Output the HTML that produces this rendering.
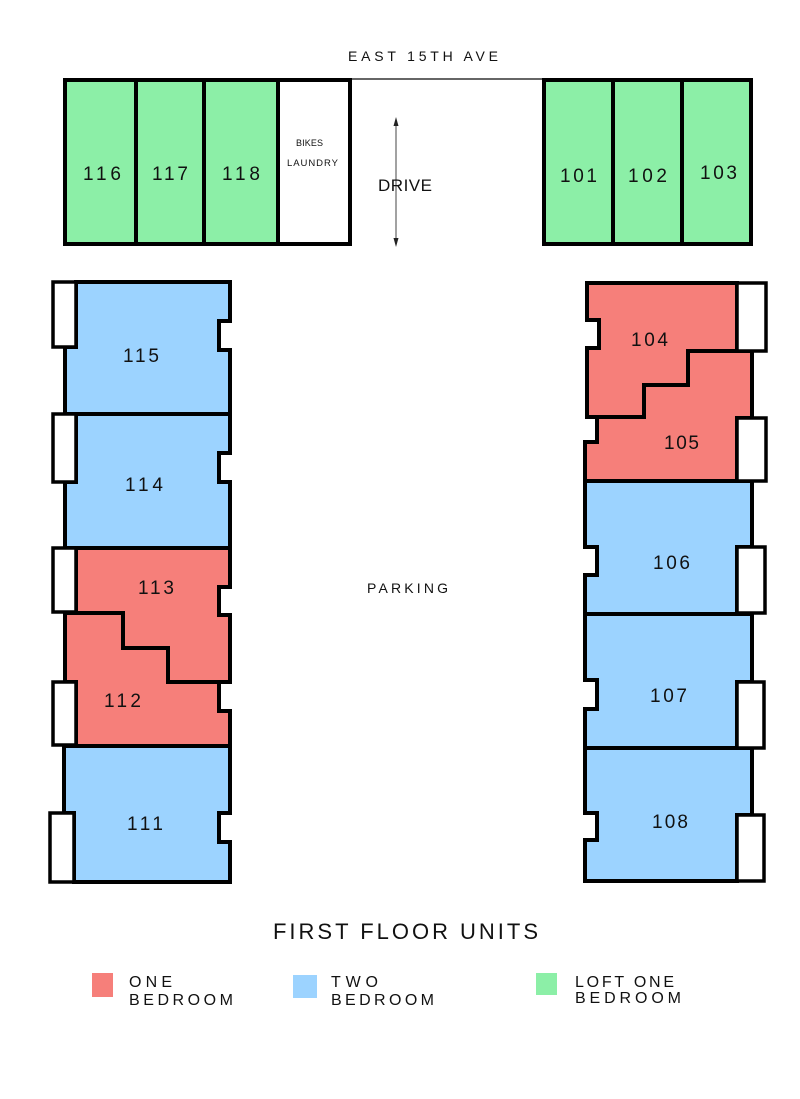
<!DOCTYPE html>
<html><head><meta charset="utf-8"><style>
html,body{margin:0;padding:0;background:#fff;}
svg{display:block;}
text{font-family:"Liberation Sans",sans-serif;fill:#111;}
</style></head><body>
<svg width="800" height="1099" viewBox="0 0 800 1099" xmlns="http://www.w3.org/2000/svg">
<rect width="800" height="1099" fill="#fff"/>
<!-- street -->
<line x1="350" y1="79" x2="544" y2="79" stroke="#333" stroke-width="1.5"/>
<text x="348" y="61" font-size="14" textLength="150" lengthAdjust="spacing">EAST 15TH  AVE</text>

<!-- top left block -->
<g stroke="#000" stroke-width="4" stroke-linejoin="miter">
<rect x="65" y="80" width="71" height="164" fill="#8CEFA7"/>
<rect x="136" y="80" width="68" height="164" fill="#8CEFA7"/>
<rect x="204" y="80" width="74" height="164" fill="#8CEFA7"/>
<rect x="278" y="80" width="72" height="164" fill="#fff"/>
<rect x="544" y="80" width="69" height="164" fill="#8CEFA7"/>
<rect x="613" y="80" width="69" height="164" fill="#8CEFA7"/>
<rect x="682" y="80" width="69" height="164" fill="#8CEFA7"/>
</g>
<text x="83" y="180" font-size="19" textLength="38" lengthAdjust="spacing">116</text>
<text x="152" y="180" font-size="19" textLength="36" lengthAdjust="spacing">117</text>
<text x="222" y="180" font-size="19" textLength="38" lengthAdjust="spacing">118</text>
<text x="560" y="182" font-size="19" textLength="37" lengthAdjust="spacing">101</text>
<text x="628" y="182" font-size="19" textLength="39" lengthAdjust="spacing">102</text>
<text x="700" y="179" font-size="19" textLength="37" lengthAdjust="spacing">103</text>
<text x="296" y="146" font-size="9" textLength="27" lengthAdjust="spacing">BIKES</text>
<text x="287" y="166" font-size="9.5" textLength="51" lengthAdjust="spacing">LAUNDRY</text>

<!-- drive arrow -->
<line x1="396" y1="123" x2="396" y2="241" stroke="#444" stroke-width="1"/>
<polygon points="396,117 393.5,126 398.5,126" fill="#222"/>
<polygon points="396,247 393.5,238 398.5,238" fill="#222"/>
<text x="378" y="191" font-size="17" textLength="54" lengthAdjust="spacing">DRIVE</text>

<!-- left column -->
<g stroke="#000" stroke-width="4" stroke-linejoin="miter">
<polygon fill="#9CD3FF" points="76,282 230,282 230,321 219,321 219,350 230,350 230,414 65,414 65,347 76,347"/>
<polygon fill="#9CD3FF" points="76,414 230,414 230,453 219,453 219,482 230,482 230,548 65,548 65,482 76,482"/>
<polygon fill="#F67F7A" points="76,548 230,548 230,587 219,587 219,615 230,615 230,682 168,682 168,648 123,648 123,613 76,613"/>
<polygon fill="#F67F7A" points="65,613 123,613 123,648 168,648 168,682 219,682 219,711 230,711 230,746 76,746 76,682 65,682"/>
<polygon fill="#9CD3FF" points="64,746 230,746 230,813 219,813 219,842 230,842 230,882 74,882 74,813 64,813"/>
</g>
<g stroke="#000" stroke-width="3.5" fill="#fff">
<rect x="53" y="282" width="23" height="65"/>
<rect x="53" y="414" width="23" height="68"/>
<rect x="53" y="548" width="23" height="64"/>
<rect x="53" y="682" width="23" height="63"/>
<rect x="50" y="813" width="24" height="69"/>
</g>
<text x="123" y="362" font-size="19" textLength="36" lengthAdjust="spacing">115</text>
<text x="125" y="491" font-size="19" textLength="38" lengthAdjust="spacing">114</text>
<text x="138" y="594" font-size="19" textLength="36" lengthAdjust="spacing">113</text>
<text x="104" y="707" font-size="19" textLength="37" lengthAdjust="spacing">112</text>
<text x="127" y="830" font-size="19" textLength="36" lengthAdjust="spacing">111</text>

<!-- right column -->
<g stroke="#000" stroke-width="4" stroke-linejoin="miter">
<polygon fill="#F67F7A" points="587,283 737,283 737,351 688,351 688,385 644,385 644,417 587,417 587,348 599,348 599,320 587,320"/>
<polygon fill="#F67F7A" points="644,417 644,385 688,385 688,351 752,351 752,418 737,418 737,481 585,481 585,442 597,442 597,417"/>
<polygon fill="#9CD3FF" points="585,481 752,481 752,547 737,547 737,614 585,614 585,575 597,575 597,547 585,547"/>
<polygon fill="#9CD3FF" points="585,614 752,614 752,682 737,682 737,748 585,748 585,709 597,709 597,680 585,680"/>
<polygon fill="#9CD3FF" points="585,748 752,748 752,815 737,815 737,881 585,881 585,840 597,840 597,813 585,813"/>
</g>
<g stroke="#000" stroke-width="3.5" fill="#fff">
<rect x="737" y="283" width="29" height="68"/>
<rect x="737" y="418" width="29" height="63"/>
<rect x="737" y="547" width="28" height="66"/>
<rect x="737" y="682" width="27" height="66"/>
<rect x="737" y="815" width="27" height="66"/>
</g>
<text x="631" y="346" font-size="19" textLength="37" lengthAdjust="spacing">104</text>
<text x="664" y="449" font-size="19" textLength="35" lengthAdjust="spacing">105</text>
<text x="653" y="569" font-size="19" textLength="37" lengthAdjust="spacing">106</text>
<text x="650" y="702" font-size="19" textLength="37" lengthAdjust="spacing">107</text>
<text x="652" y="828" font-size="19" textLength="36" lengthAdjust="spacing">108</text>

<text x="367" y="593" font-size="14" textLength="81" lengthAdjust="spacing">PARKING</text>

<!-- title -->
<text x="273" y="939" font-size="22" textLength="265" lengthAdjust="spacing">FIRST FLOOR UNITS</text>

<!-- legend -->
<rect x="92" y="973" width="21" height="24" fill="#F67F7A"/>
<rect x="293" y="975" width="24" height="23" fill="#9CD3FF"/>
<rect x="536" y="973" width="21" height="22" fill="#8CEFA7"/>
<text x="129" y="987" font-size="16" textLength="43" lengthAdjust="spacing">ONE</text>
<text x="129" y="1005" font-size="16" textLength="104" lengthAdjust="spacing">BEDROOM</text>
<text x="331" y="987" font-size="16" textLength="47" lengthAdjust="spacing">TWO</text>
<text x="331" y="1005" font-size="16" textLength="103" lengthAdjust="spacing">BEDROOM</text>
<text x="575" y="987" font-size="16" textLength="99" lengthAdjust="spacing">LOFT ONE</text>
<text x="575" y="1003" font-size="16" textLength="106" lengthAdjust="spacing">BEDROOM</text>
</svg>
</body></html>
